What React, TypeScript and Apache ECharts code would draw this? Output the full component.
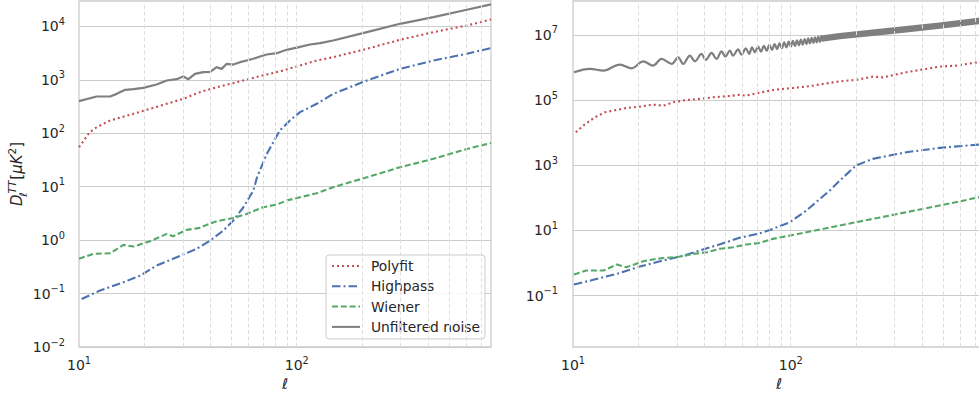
import React, { useEffect, useRef } from 'react';
import * as echarts from 'echarts';

const FONT = 'DejaVu Sans';
const TXT = '#262626';
const C_POLY = '#C44E52';
const C_HIGH = '#4C72B0';
const C_WIEN = '#55A868';
const C_NOISE = '#7f7f7f';

const SERIES_NAMES = ['Polyfit', 'Highpass', 'Wiener', 'Unfiltered noise'];

// ---------- left panel ----------
const lPolyL = [10, 10.66, 11.2, 12.05, 13.9, 17.8, 21.2, 25.3, 30.1, 35.9, 42.9, 51.1, 61, 72.8, 86.8, 103.5, 123.6, 147, 210, 298, 424, 604, 780];
const lPolyV = [55, 79, 105, 130, 174, 232, 288, 357, 443, 589, 731, 869, 1048, 1262, 1499, 1862, 2307, 2661, 3819, 5636, 7820, 10440, 13500];

const lHighL = [10.28, 12.5, 15.98, 19.1, 22.7, 28.1, 34.7, 40, 46, 51.1, 56.9, 63.2, 65.7, 72.8, 83.6, 93, 103.5, 123.6, 147, 210, 298, 424, 604, 780];
const lHighV = [0.079, 0.114, 0.163, 0.217, 0.334, 0.478, 0.687, 0.98, 1.51, 2.33, 4.13, 8.5, 15, 41, 113, 174, 249, 357, 548, 975, 1610, 2307, 3084, 3950];

const lWienL = [10, 11.6, 13.9, 16, 17.8, 21.2, 25.3, 27, 31.2, 35.9, 38.5, 42.9, 51.1, 58.9, 70, 80.9, 89.9, 103.5, 123.6, 147, 210, 298, 424, 604, 780];
const lWienV = [0.447, 0.553, 0.569, 0.817, 0.759, 0.955, 1.31, 1.18, 1.56, 1.7, 1.93, 2.26, 2.61, 3.1, 4.13, 4.64, 5.52, 6.36, 7.55, 9.8, 15, 23.2, 33.3, 51, 66];

const lNoiseL = [10, 12.05, 13.9, 14.9, 16.3, 17.8, 19.7, 22.7, 25.3, 28.1, 30.1, 31.8, 34.1, 37.2, 40, 42.9, 45.2, 47.7, 51.1, 54.9, 58.9, 63.2, 67.8, 72.8, 80.9, 89.9, 103.5, 115, 128, 147, 210, 298, 424, 604, 780];
const lNoiseV = [400, 489, 489, 548, 651, 670, 710, 820, 975, 1031, 1158, 1031, 1300, 1396, 1416, 1730, 1610, 2000, 1940, 2146, 2307, 2483, 2742, 2990, 3162, 3656, 4150, 4600, 4870, 5470, 7820, 11230, 14930, 20550, 26000];

// ---------- right panel ----------
const rPolyL = [10.3, 11.15, 11.97, 12.85, 14, 15.86, 17.6, 20.3, 23.3, 26, 28.9, 33.2, 38.3, 44, 50.7, 58.2, 62.5, 69.6, 82.8, 118, 168, 200, 238, 265, 339, 418, 483, 575, 728, 780];
const rPolyV = [1.03e4, 1.65e4, 2.35e4, 3.18e4, 4.22e4, 5e4, 5.76e4, 6.3e4, 7.27e4, 6.77e4, 8.57e4, 1.01e5, 1.09e5, 1.22e5, 1.31e5, 1.45e5, 1.37e5, 1.62e5, 2.05e5, 2.6e5, 3.77e5, 4.17e5, 5.26e5, 5e5, 7.13e5, 9.06e5, 1.07e6, 1.14e6, 1.45e6, 1.51e6];

const rHighL = [10.1, 12.4, 15.9, 20.3, 25.1, 31, 38.3, 48.9, 58.2, 72.2, 82.8, 99, 118, 136, 151, 168, 200, 238, 339, 483, 728, 780];
const rHighV = [0.219, 0.305, 0.467, 0.78, 1.13, 1.58, 2.42, 4.05, 5.93, 8.2, 11.2, 17.9, 40.7, 93, 167, 339, 1000, 1570, 2510, 3420, 4310, 4470];

const rWienL = [10.1, 11.5, 13.8, 15.9, 17.6, 21, 24.2, 26.9, 31, 35.7, 41.1, 47.2, 54.4, 62.5, 72.2, 82.8, 118, 200, 284, 404, 572, 728, 780];
const rWienV = [0.443, 0.589, 0.589, 0.9, 0.745, 1.13, 1.35, 1.45, 1.58, 1.91, 2.14, 2.73, 3.05, 3.69, 4.17, 5.52, 8.8, 17.9, 28.6, 46, 73, 104, 112];

const rNoiseL = [10.1, 11.97, 13.8, 16.4, 18.6, 21, 23.3, 25.5, 28.4, 30.4, 32.1, 34.4, 36.3, 38.9, 40.7, 43.3, 45.6, 48.1, 50.1, 52.5, 54.3, 57.3, 59.4, 62.2, 64.4, 66.4, 68.4, 70.8, 73, 75.3, 77.5, 79.8, 82, 84.3, 86.5, 88.8, 91, 93.3, 95.5, 97.8, 100, 102.3, 104.5, 106.8, 109, 111.3, 113.5, 115.8, 118, 120.3, 122.5, 124.8, 127, 129.3, 131.5, 133.8, 136, 138.3, 140.5];
const rNoiseV = [7.13e5, 9.06e5, 8.04e5, 1.23e6, 9.46e5, 1.55e6, 1.14e6, 1.84e6, 1.29e6, 2.06e6, 1.29e6, 2.32e6, 1.55e6, 2.61e6, 1.71e6, 2.81e6, 1.84e6, 3.14e6, 2.16e6, 3.3e6, 2.32e6, 3.61e6, 2.49e6, 3.88e6, 2.61e6, 4.17e6, 2.92e6, 4.38e6, 3.05e6, 4.63e6, 3.27e6, 4.93e6, 3.47e6, 5.25e6, 3.69e6, 5.56e6, 3.91e6, 5.89e6, 4.13e6, 6.21e6, 4.35e6, 6.53e6, 4.57e6, 6.85e6, 4.8e6, 7.18e6, 5.0e6, 7.5e6, 5.25e6, 7.85e6, 5.47e6, 8.18e6, 5.7e6, 8.5e6, 5.93e6, 8.85e6, 6.15e6, 9.19e6, 6.38e6];
// dense oscillation region drawn as a band (centre line)
const rBandL = [138.3, 168, 238, 339, 483, 728, 780];
const rBandV = [7.7e6, 9.2e6, 1.16e7, 1.49e7, 1.93e7, 2.69e7, 2.85e7];

// ---------- axes ----------
const X_MIN = 10;
const X_MAX = 780;
const xTickVals = [10, 100];
const xMinorGrid = [20, 30, 40, 50, 60, 70, 80, 90, 100, 200, 300, 400, 500, 600, 700];
const lYMin = 0.01;
const lYMax = 3e4;
const lYTicks = [1e-2, 1e-1, 1, 10, 100, 1e3, 1e4];
const rYMin = 2.65e-3;
const rYMax = 1.1e8;
const rYTicks = [1e-1, 10, 1e3, 1e5, 1e7];

const zip = (a: number[], b: number[]) => a.map((x, i) => [x, b[i]]);

const powLabel = (v: number) => {
  const e = Math.round(Math.log10(v));
  const es = e < 0 ? '\u2212' + String(-e) : String(e);
  return `{b|10}{s|${es}}`;
};

const labelRich = {
  b: { fontSize: 14, lineHeight: 20, color: TXT, fontFamily: FONT },
  s: { fontSize: 9.8, lineHeight: 10, verticalAlign: 'top', color: TXT, fontFamily: FONT },
};

function makeXAxis(gridIndex: number) {
  return {
    type: 'log',
    gridIndex,
    logBase: 10,
    min: X_MIN,
    max: X_MAX,
    name: '\u2113',
    nameLocation: 'middle',
    nameGap: 27,
    nameTextStyle: { fontSize: 15, fontStyle: 'italic', fontFamily: FONT, color: TXT, lineHeight: 15 },
    axisLine: { show: false },
    axisTick: { show: false, customValues: xTickVals },
    splitLine: { show: false },
    axisLabel: {
      customValues: xTickVals,
      formatter: powLabel,
      margin: 8,
      rich: labelRich,
      color: TXT,
      fontFamily: FONT,
      fontSize: 14,
    },
  };
}

function makeYAxis(gridIndex: number, min: number, max: number, ticks: number[], margin: number) {
  return {
    type: 'log',
    gridIndex,
    logBase: 10,
    min,
    max,
    axisLine: { show: false },
    axisTick: { show: false, customValues: ticks },
    splitLine: { show: true, lineStyle: { color: '#cccccc', width: 1.1 } },
    axisLabel: {
      customValues: ticks,
      formatter: powLabel,
      margin,
      rich: labelRich,
      color: TXT,
      fontFamily: FONT,
      fontSize: 14,
    },
  };
}

function lineSeries(name: string, gi: number, data: number[][], color: string, width: number, type: any, z: number) {
  return {
    name,
    type: 'line',
    xAxisIndex: gi,
    yAxisIndex: gi,
    data,
    symbol: 'none',
    showSymbol: false,
    silent: true,
    color,
    z,
    lineStyle: { color, width, type, cap: 'butt', join: 'round' },
    itemStyle: { color },
    emphasis: { disabled: true },
  };
}

function gridLines(gi: number) {
  return {
    name: 'vgrid' + gi,
    type: 'line',
    xAxisIndex: gi,
    yAxisIndex: gi,
    data: [],
    silent: true,
    z: 1,
    markLine: {
      silent: true,
      symbol: ['none', 'none'],
      label: { show: false },
      lineStyle: { color: '#dedede', width: 1, type: [4, 2.5] },
      emphasis: { disabled: true },
      data: xMinorGrid.map((v) => ({ xAxis: v })),
    },
  };
}

const DOT = [2, 3];
const DASHDOT = [8.5, 3, 2, 3];
const DASH = [6, 2.8];

export default function App() {
  const ref = useRef<HTMLDivElement>(null);
  useEffect(() => {
    if (!ref.current) return;
    const chart = echarts.init(ref.current, undefined, { renderer: 'svg' });
    const option: any = {
      animation: false,
      backgroundColor: '#ffffff',
      textStyle: { fontFamily: FONT },
      grid: [
        { left: 79, top: 1, width: 412, height: 346, show: true, borderColor: '#cccccc', borderWidth: 1.3, outerBoundsMode: 'none', containLabel: false },
        { left: 573, top: 1, width: 412, height: 346, show: true, borderColor: '#cccccc', borderWidth: 1.3, outerBoundsMode: 'none', containLabel: false },
      ],
      xAxis: [makeXAxis(0), makeXAxis(1)],
      yAxis: [makeYAxis(0, lYMin, lYMax, lYTicks, 14), makeYAxis(1, rYMin, rYMax, rYTicks, 15)],
      legend: {
        data: SERIES_NAMES,
        orient: 'vertical',
        left: 326,
        top: 255,
        itemWidth: 28,
        itemHeight: 14,
        itemGap: 6.3,
        padding: [4, 5, 5, 5],
        backgroundColor: 'rgba(255,255,255,0.85)',
        borderColor: '#cccccc',
        borderWidth: 1,
        borderRadius: 3,
        selectedMode: false,
        itemStyle: { opacity: 0, borderWidth: 0 },
        textStyle: { fontSize: 13.8, color: TXT, fontFamily: FONT, padding: [0, 0, 0, 6] },
      },
      graphic: [
        {
          type: 'text',
          x: 17,
          y: 174,
          rotation: Math.PI / 2,
          silent: true,
          style: {
            text: '{d|D}{sub|\u2113}{sup|TT}{br|[}{m|\u03bcK}{s2|2}{br|]}',
            align: 'center',
            verticalAlign: 'middle',
            textAlign: 'center',
            textVerticalAlign: 'middle',
            fill: TXT,
            rich: {
              d: { fontSize: 15, fontStyle: 'italic', fontFamily: FONT, lineHeight: 22, fill: TXT, color: TXT },
              sub: { fontSize: 10.5, fontStyle: 'italic', fontFamily: FONT, lineHeight: 12, verticalAlign: 'bottom', width: 0.01, fill: TXT, color: TXT },
              sup: { fontSize: 10.5, fontStyle: 'italic', fontFamily: FONT, lineHeight: 10, verticalAlign: 'top', fill: TXT, color: TXT, padding: [0, 1, 0, 1] },
              br: { fontSize: 15, fontFamily: FONT, lineHeight: 22, fill: TXT, color: TXT },
              m: { fontSize: 15, fontStyle: 'italic', fontFamily: FONT, lineHeight: 22, fill: TXT, color: TXT },
              s2: { fontSize: 10.5, fontFamily: FONT, lineHeight: 10, verticalAlign: 'top', fill: TXT, color: TXT },
            },
          },
        },
      ],
      series: [
        gridLines(0),
        gridLines(1),
        lineSeries('Polyfit', 0, zip(lPolyL, lPolyV), C_POLY, 2.1, DOT, 3),
        lineSeries('Highpass', 0, zip(lHighL, lHighV), C_HIGH, 2.1, DASHDOT, 3),
        lineSeries('Wiener', 0, zip(lWienL, lWienV), C_WIEN, 2.1, DASH, 3),
        lineSeries('Unfiltered noise', 0, zip(lNoiseL, lNoiseV), C_NOISE, 2.2, 'solid', 3),
        lineSeries('Polyfit', 1, zip(rPolyL, rPolyV), C_POLY, 2.1, DOT, 3),
        lineSeries('Highpass', 1, zip(rHighL, rHighV), C_HIGH, 2.1, DASHDOT, 3),
        lineSeries('Wiener', 1, zip(rWienL, rWienV), C_WIEN, 2.1, DASH, 3),
        { ...lineSeries('Unfiltered noise', 1, zip(rNoiseL, rNoiseV), C_NOISE, 2.2, 'solid', 3), smooth: 0.35 },
        lineSeries('noise band', 1, zip(rBandL, rBandV), C_NOISE, 6.5, 'solid', 3),
      ],
    };
    chart.setOption(option);
    return () => chart.dispose();
  }, []);

  return (
    <div style={{ position: 'fixed', left: 0, top: 0, width: 979, height: 396, overflow: 'hidden', background: '#fff' }}>
      <div ref={ref} style={{ width: 990, height: 396 }} />
    </div>
  );
}
